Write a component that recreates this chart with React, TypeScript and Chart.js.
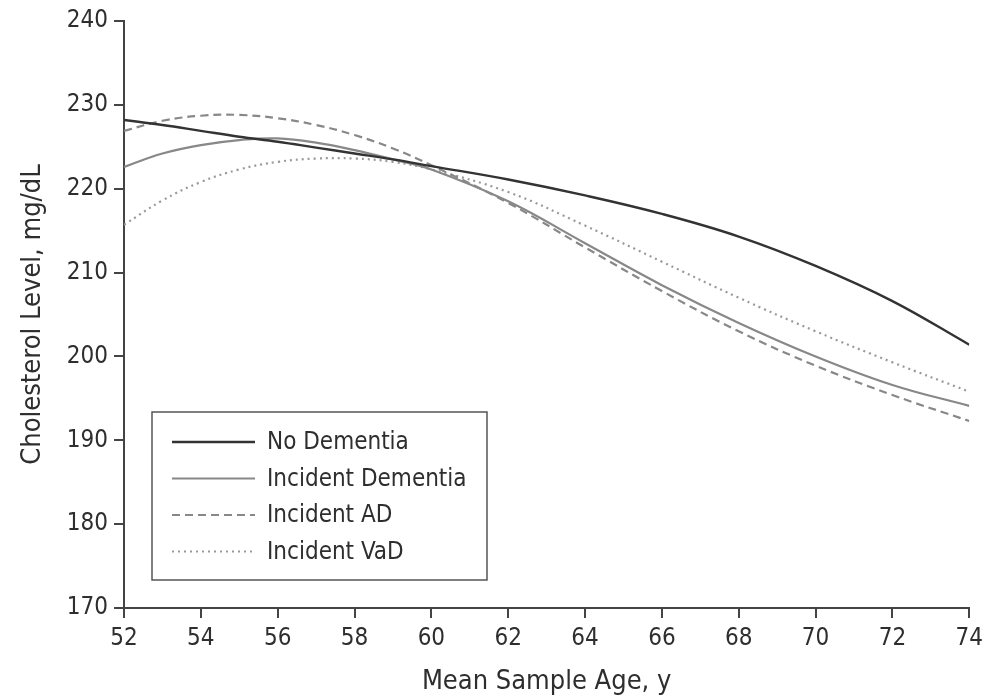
import React, { useEffect, useRef } from "react";
import { Chart, registerables } from "chart.js";

Chart.register(...registerables);

const ages = [52, 53, 54, 55, 56, 57, 58, 59, 60, 62, 64, 66, 68, 70, 72, 74];
const noDementia = [228.2, 227.6, 226.9, 226.2, 225.6, 224.9, 224.2, 223.5, 222.7, 221.1, 219.2, 217.0, 214.3, 210.8, 206.6, 201.4];
const incidentDementia = [222.6, 224.2, 225.2, 225.8, 226.0, 225.5, 224.6, 223.5, 222.3, 218.5, 213.5, 208.5, 204.0, 200.0, 196.6, 194.1];
const incidentAD = [226.9, 228.1, 228.7, 228.8, 228.4, 227.6, 226.4, 224.8, 222.8, 218.3, 213.0, 207.8, 203.0, 198.9, 195.4, 192.3];
const incidentVaD = [215.7, 218.6, 220.8, 222.3, 223.2, 223.6, 223.6, 223.2, 222.3, 219.6, 215.6, 211.3, 207.0, 203.0, 199.3, 195.8];

const seriesLabels = ["No Dementia", "Incident Dementia", "Incident AD", "Incident VaD"];
const xTicks = { min: 52, max: 74, step: 2 };
const yTicks = { min: 170, max: 240, step: 10 };

const FONT = "'Liberation Sans Narrow', 'DejaVu Sans Condensed', 'Liberation Sans', sans-serif";
const TEXT = "#2e2e2e";
const AXIS = "#444444";

const toPoints = (vals: number[]) => vals.map((v, i) => ({ x: ages[i], y: v }));

const legendPlugin = {
  id: "boxLegend",
  afterDraw(chart: any) {
    const { ctx, chartArea } = chart;
    const left = chartArea.left + 28;
    const bottom = chartArea.bottom - 28;
    const width = 335;
    const height = 168;
    const top = bottom - height;
    ctx.save();
    ctx.fillStyle = "#ffffff";
    ctx.fillRect(left, top, width, height);
    ctx.strokeStyle = "#555555";
    ctx.lineWidth = 1.5;
    ctx.setLineDash([]);
    ctx.strokeRect(left, top, width, height);
    chart.data.datasets.forEach((ds: any, i: number) => {
      const y = top + 30 + i * 36.5;
      ctx.beginPath();
      ctx.strokeStyle = ds.borderColor;
      ctx.lineWidth = ds.borderWidth;
      ctx.setLineDash(ds.borderDash || []);
      ctx.moveTo(left + 20, y);
      ctx.lineTo(left + 103, y);
      ctx.stroke();
      ctx.setLineDash([]);
      ctx.fillStyle = TEXT;
      ctx.font = `24px ${FONT}`;
      ctx.textBaseline = "middle";
      ctx.textAlign = "left";
      ctx.fillText(ds.label, left + 115, y + 1);
    });
    ctx.restore();
  },
};

export default function App() {
  const ref = useRef<HTMLCanvasElement>(null);
  useEffect(() => {
    if (!ref.current) return;
    const chart = new Chart(ref.current, {
      type: "line",
      data: {
        datasets: [
          { label: seriesLabels[0], data: toPoints(noDementia), borderColor: "#333333", borderWidth: 2.4, borderDash: [], pointRadius: 0, tension: 0.4 },
          { label: seriesLabels[1], data: toPoints(incidentDementia), borderColor: "#888888", borderWidth: 2.2, borderDash: [], pointRadius: 0, tension: 0.4 },
          { label: seriesLabels[2], data: toPoints(incidentAD), borderColor: "#888888", borderWidth: 2.2, borderDash: [8, 5], pointRadius: 0, tension: 0.4 },
          { label: seriesLabels[3], data: toPoints(incidentVaD), borderColor: "#999999", borderWidth: 2.2, borderDash: [2, 4], pointRadius: 0, tension: 0.4 },
        ],
      },
      options: {
        responsive: false,
        animation: false,
        layout: { padding: { top: 21, right: 19, left: 0, bottom: 0 } },
        plugins: { legend: { display: false }, tooltip: { enabled: false } },
        scales: {
          x: {
            type: "linear",
            min: xTicks.min,
            max: xTicks.max,
            afterFit: (s: any) => { s.height = 90; },
            ticks: { stepSize: xTicks.step, color: TEXT, font: { family: FONT, size: 24 }, padding: 6, maxRotation: 0 },
            grid: { display: true, drawOnChartArea: false, drawTicks: true, tickLength: 10, color: AXIS, lineWidth: 2 },
            border: { display: true, color: AXIS, width: 2 },
            title: { display: true, text: "Mean Sample Age, y", color: TEXT, font: { family: FONT, size: 27 }, padding: { top: 2, bottom: 0 } },
          },
          y: {
            type: "linear",
            min: yTicks.min,
            max: yTicks.max,
            afterFit: (s: any) => { s.width = 124; },
            ticks: { stepSize: yTicks.step, color: TEXT, font: { family: FONT, size: 24 }, padding: 6 },
            grid: { display: true, drawOnChartArea: false, drawTicks: true, tickLength: 10, color: AXIS, lineWidth: 2 },
            border: { display: true, color: AXIS, width: 2 },
            title: { display: true, text: "Cholesterol Level, mg/dL", color: TEXT, font: { family: FONT, size: 27 }, padding: { top: 17 } },
          },
        },
      },
      plugins: [legendPlugin],
    });
    return () => chart.destroy();
  }, []);
  return (
    <div style={{ position: "absolute", left: 0, top: 0, width: 989, height: 698, background: "#fff" }}>
      <canvas ref={ref} width={989} height={698} />
    </div>
  );
}
